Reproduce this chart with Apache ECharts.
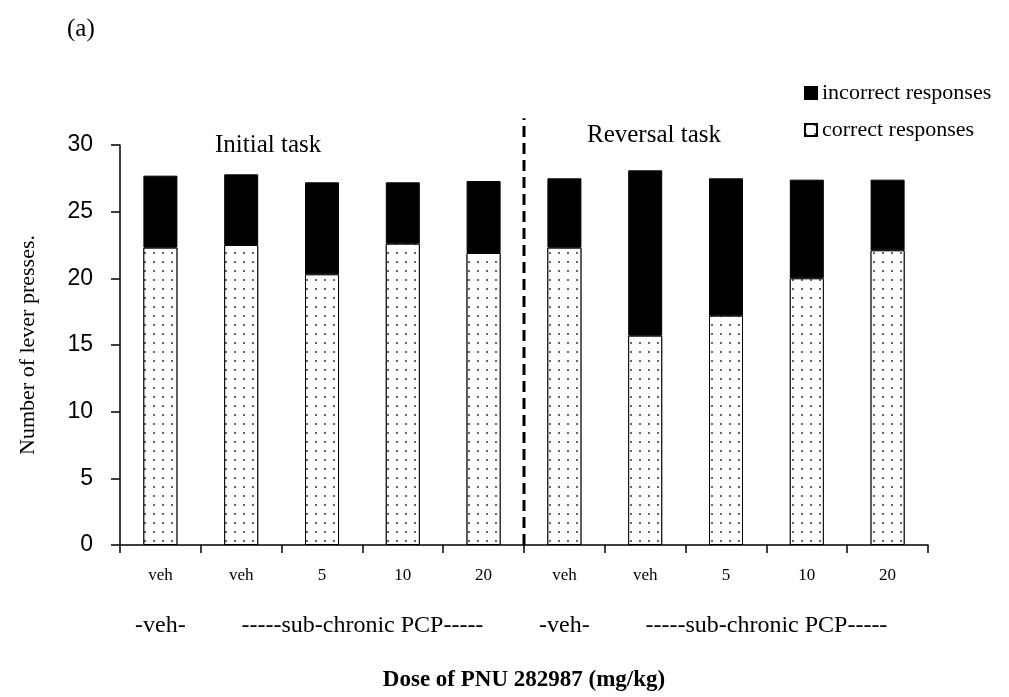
<!DOCTYPE html>
<html>
<head>
<meta charset="utf-8">
<script src="https://cdn.jsdelivr.net/npm/echarts@6/dist/echarts.min.js"></script>
<style>html,body{margin:0;padding:0;background:#fff;}#c{width:1009px;height:697px;}</style>
</head>
<body>
<div id="c"></div>
<script>
var categories = ['veh','veh','5','10','20','veh','veh','5','10','20'];
var correct = [22.3, 22.5, 20.3, 22.6, 21.9, 22.3, 15.7, 17.2, 20.0, 22.1];
var incorrect = [5.4, 5.3, 6.9, 4.6, 5.4, 5.2, 12.4, 10.3, 7.4, 5.3];
var groupLabels = ['', '-veh-', '', '', '', '', '-----sub-chronic PCP-----', '', '', '', '', '-veh-', '', '', '', '', '-----sub-chronic PCP-----', '', '', '', ''];
var dividerLine = [[5, 0], [5, 32]];
var yTicks = {min: 0, max: 30, interval: 5};

var serif = '"Liberation Serif", "Times New Roman", serif';
var sans = '"Liberation Sans", Arial, sans-serif';

var chart = echarts.init(document.getElementById('c'), null, {renderer: 'canvas'});
chart.setOption({
  animation: false,
  backgroundColor: '#fff',
  title: [
    {text: '(a)', left: 62, top: 12, textStyle: {fontFamily: serif, fontSize: 25, fontWeight: 'normal', color: '#000'}},
    {text: 'Initial task', left: 210, top: 128, textStyle: {fontFamily: serif, fontSize: 25, fontWeight: 'normal', color: '#000'}},
    {text: 'Reversal task', left: 582, top: 118, textStyle: {fontFamily: serif, fontSize: 25, fontWeight: 'normal', color: '#000'}}
  ],
  legend: {
    orient: 'vertical',
    left: 804,
    top: 82,
    itemWidth: 12,
    itemHeight: 12,
    itemGap: 15,
    padding: 0,
    icon: 'rect',
    data: ['incorrect responses', 'correct responses'],
    textStyle: {fontFamily: serif, fontSize: 22, color: '#000'}
  },
  grid: {left: 120, right: 81, top: 145, bottom: 150, containLabel: false},
  xAxis: [
    {
      type: 'category',
      data: categories,
      axisLine: {lineStyle: {color: '#000', width: 1.5}},
      axisTick: {show: true, length: 8, lineStyle: {color: '#000', width: 1.5}},
      axisLabel: {interval: 0, margin: 22, fontFamily: serif, fontSize: 17, color: '#000'},
      name: 'Dose of PNU 282987 (mg/kg)',
      nameLocation: 'middle',
      nameGap: 124,
      nameTextStyle: {fontFamily: serif, fontSize: 23, fontWeight: 'bold', color: '#000'}
    },
    {type: 'value', min: 0, max: 10, show: false},
    {
      type: 'category',
      boundaryGap: false,
      data: groupLabels,
      position: 'bottom',
      axisLine: {show: false},
      axisTick: {show: false},
      axisLabel: {interval: 0, margin: 69, fontFamily: serif, fontSize: 24, color: '#000'}
    }
  ],
  yAxis: {
    type: 'value',
    min: yTicks.min,
    max: yTicks.max,
    interval: yTicks.interval,
    splitLine: {show: false},
    axisLine: {show: true, lineStyle: {color: '#000', width: 1.5}},
    axisTick: {show: true, length: 9, lineStyle: {color: '#000', width: 1.5}},
    axisLabel: {margin: 27, fontFamily: sans, fontSize: 23, color: '#000'},
    name: 'Number of lever presses.',
    nameLocation: 'middle',
    nameGap: 81,
    nameTextStyle: {fontFamily: serif, fontSize: 22, color: '#000'}
  },
  series: [
    {
      name: 'correct responses',
      type: 'bar',
      stack: 'total',
      barWidth: 34,
      data: correct,
      itemStyle: {
        color: '#fff',
        borderColor: '#000',
        borderWidth: 1,
        decal: {symbol: 'circle', symbolSize: 1, color: '#333', backgroundColor: '#fff', dashArrayX: [2, 7], dashArrayY: [2, 7], rotation: 0}
      }
    },
    {
      name: 'incorrect responses',
      type: 'bar',
      stack: 'total',
      barWidth: 34,
      data: incorrect,
      itemStyle: {color: '#000', borderColor: '#000', borderWidth: 1}
    },
    {
      name: 'divider',
      type: 'line',
      xAxisIndex: 1,
      data: dividerLine,
      symbol: 'none',
      clip: false,
      silent: true,
      lineStyle: {color: '#000', width: 3, type: [11, 6]},
      z: 5
    }
  ]
});
</script>
</body>
</html>
